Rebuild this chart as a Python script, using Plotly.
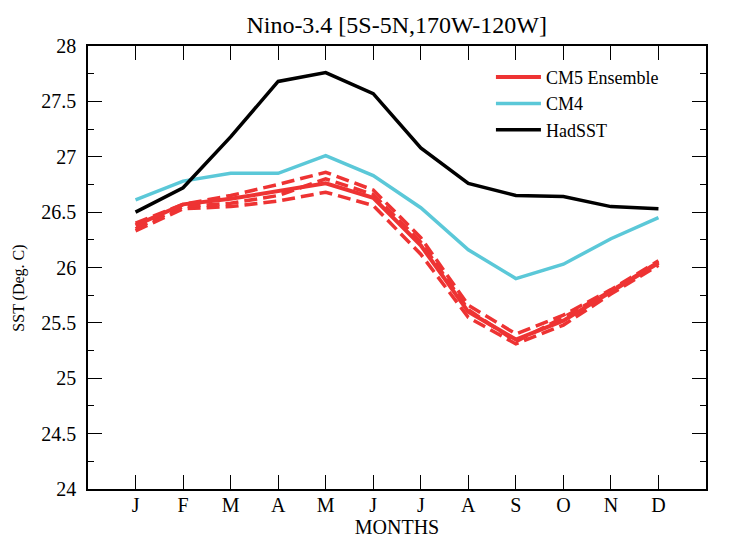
import plotly.graph_objects as go

months = ["J", "F", "M", "A", "M", "J", "J", "A", "S", "O", "N", "D"]
month_idx = list(range(1, 13))

hadsst = [26.50, 26.72, 27.18, 27.68, 27.76, 27.57, 27.08, 26.76, 26.65, 26.64, 26.55, 26.53]
cm4 = [26.61, 26.78, 26.85, 26.85, 27.01, 26.83, 26.54, 26.16, 25.90, 26.03, 26.26, 26.45]
cm5_mean = [26.38, 26.57, 26.62, 26.69, 26.76, 26.63, 26.20, 25.60, 25.35, 25.52, 25.78, 26.04]
cm5_member1 = [26.40, 26.57, 26.65, 26.75, 26.86, 26.70, 26.27, 25.66, 25.40, 25.57, 25.80, 26.06]
cm5_member2 = [26.33, 26.53, 26.55, 26.60, 26.68, 26.56, 26.12, 25.55, 25.31, 25.48, 25.76, 26.02]
cm5_member3 = [26.35, 26.55, 26.58, 26.65, 26.80, 26.66, 26.23, 25.62, 25.33, 25.55, 25.79, 26.05]

RED = "#ee3333"
CYAN = "#5bc8d8"
BLACK = "#000000"
FONT = "Liberation Serif"

fig = go.Figure()
for m in (cm5_member1, cm5_member2, cm5_member3):
    fig.add_trace(go.Scatter(x=month_idx, y=m, mode="lines",
                             line=dict(color=RED, width=3.5, dash="13px,6px"),
                             showlegend=False, hoverinfo="skip"))
fig.add_trace(go.Scatter(x=month_idx, y=cm5_mean, mode="lines", name="CM5 Ensemble",
                         line=dict(color=RED, width=4)))
fig.add_trace(go.Scatter(x=month_idx, y=cm4, mode="lines", name="CM4",
                         line=dict(color=CYAN, width=3.5)))
fig.add_trace(go.Scatter(x=month_idx, y=hadsst, mode="lines", name="HadSST",
                         line=dict(color=BLACK, width=3.5)))

fig.update_layout(
    width=732, height=539,
    margin=dict(l=80, r=34, t=38, b=58),
    paper_bgcolor="white", plot_bgcolor="white",
    font=dict(family=FONT, size=20, color="black"),
    title=dict(text="Nino-3.4 [5S-5N,170W-120W]", x=0.531, xanchor="center",
               y=0.985, yanchor="top", font=dict(family=FONT, size=24)),
    legend=dict(x=0.652, y=0.971, xanchor="left", yanchor="top",
                bgcolor="rgba(0,0,0,0)", font=dict(family=FONT, size=18),
                tracegroupgap=0, itemwidth=45),
    showlegend=True,
    annotations=[dict(text="SST (Deg. C)", textangle=-90, xref="paper", yref="paper",
                      x=-0.112, y=0.454, xanchor="center", yanchor="middle",
                      showarrow=False, font=dict(family=FONT, size=16))],
)
fig.update_xaxes(
    range=[0, 13], tickmode="array", tickvals=month_idx, ticktext=months,
    ticks="inside", ticklen=14, tickwidth=1, tickcolor="black",
    showline=True, linecolor="black", linewidth=1.5, mirror="ticks",
    showgrid=False, zeroline=False, automargin=False,
    ticklabelstandoff=-3,
    title=dict(text="MONTHS", font=dict(family=FONT, size=20), standoff=1),
    tickfont=dict(family=FONT, size=20),
)
fig.update_yaxes(
    range=[24, 28], dtick=0.5, tick0=24,
    ticks="inside", ticklen=14, tickwidth=1, tickcolor="black",
    minor=dict(dtick=0.25, ticks="inside", ticklen=6, tickcolor="black", showgrid=False),
    showline=True, linecolor="black", linewidth=1.5, mirror="ticks",
    showgrid=False, zeroline=False, automargin=False,
    ticklabelstandoff=6,
    tickfont=dict(family=FONT, size=20),
)

fig.write_html("out.html")
